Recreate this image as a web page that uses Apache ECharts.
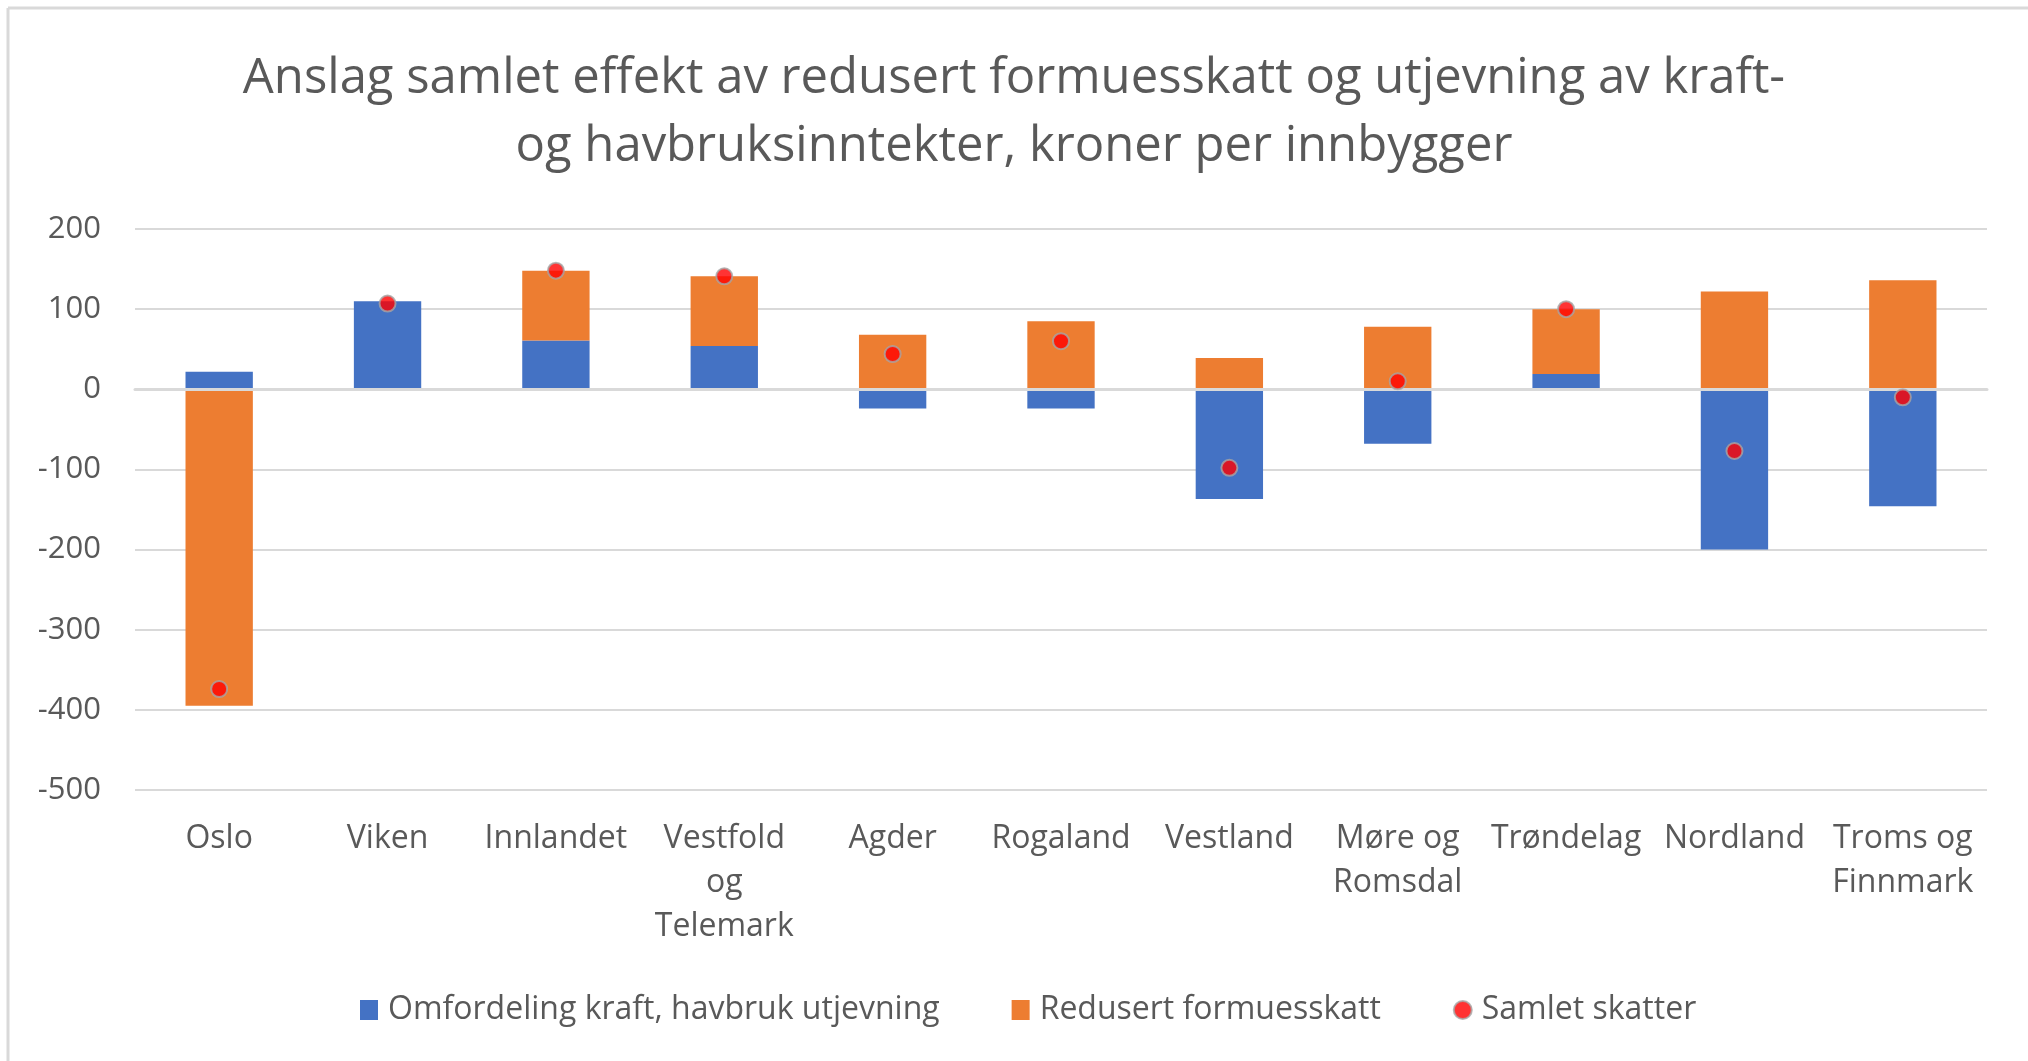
<!DOCTYPE html>
<html>
<head>
<meta charset="utf-8">
<title>Anslag samlet effekt</title>
<script src="https://cdn.jsdelivr.net/npm/echarts@6/dist/echarts.min.js"></script>
<style>
	html, body { margin: 0; padding: 0; background: #fff; }
	#chart { width: 2028px; height: 1061px; }
</style>
</head>
<body>
<div id="chart"></div>
<script>
	// data
	var regions = ['Oslo', 'Viken', 'Innlandet', 'Vestfold\nog\nTelemark', 'Agder', 'Rogaland', 'Vestland', 'Møre og\nRomsdal', 'Trøndelag', 'Nordland', 'Troms og\nFinnmark'];
	var omfordeling = [22, 110, 61, 54, -24, -24, -137, -68, 19, -200, -146];
	var formuesskatt = [-395, 0, 87, 87, 68, 85, 39, 78, 81, 122, 136];
	var samlet = [-374, 107, 148, 141, 44, 60, -98, 10, 100, -77, -10];
	var yTicks = { min: -500, max: 200, step: 100 };

	var grey = '#595959';
	var font = '"Open Sans", "Liberation Sans", sans-serif';

	var mychart = echarts.init(document.getElementById('chart'));
	var option = {
		animation: false,
		textStyle: { fontFamily: font },
		title: {
			text: 'Anslag samlet effekt av redusert formuesskatt og utjevning av kraft-\nog havbruksinntekter, kroner per innbygger',
			left: 'center',
			top: 40,
			textStyle: {
				color: grey,
				fontFamily: font,
				fontWeight: 'normal',
				fontSize: 49,
				lineHeight: 68
			}
		},
		graphic: [
			{ type: 'line', shape: { x1: 8, y1: 8, x2: 2028, y2: 8 }, style: { stroke: '#d9d9d9', lineWidth: 3 } },
			{ type: 'line', shape: { x1: 8, y1: 8, x2: 8, y2: 1061 }, style: { stroke: '#d9d9d9', lineWidth: 3 } }
		],
		legend: {
			left: 355,
			top: 989,
			itemGap: 72,
			itemWidth: 18,
			itemHeight: 20,
			textStyle: { color: grey, fontSize: 32, fontFamily: font, padding: [0, 0, 0, 5] },
			data: [
				{ name: 'Omfordeling kraft, havbruk utjevning', icon: 'rect' },
				{ name: 'Redusert formuesskatt', icon: 'rect' },
				{ name: 'Samlet skatter', icon: 'circle' }
			]
		},
		grid: {
			left: 135,
			right: 41,
			top: 229,
			bottom: 271
		},
		xAxis: {
			type: 'category',
			data: regions,
			z: 5,
			axisLine: { show: true, onZero: true, lineStyle: { color: '#d9d9d9', width: 3 } },
			axisTick: { show: false },
			axisLabel: {
				interval: 0,
				color: grey,
				fontSize: 32,
				lineHeight: 44,
				margin: 27,
				fontFamily: font
			}
		},
		yAxis: {
			type: 'value',
			min: yTicks.min,
			max: yTicks.max,
			interval: yTicks.step,
			axisLine: { show: false },
			axisTick: { show: false },
			axisLabel: { color: grey, fontSize: 31, margin: 34, fontFamily: font },
			splitLine: { show: true, lineStyle: { color: '#d9d9d9', width: 2 } }
		},
		series: [
			{
				name: 'Omfordeling kraft, havbruk utjevning',
				type: 'bar',
				stack: 'sum',
				barWidth: '40%',
				itemStyle: { color: '#4472c4' },
				data: omfordeling
			},
			{
				name: 'Redusert formuesskatt',
				type: 'bar',
				stack: 'sum',
				barWidth: '40%',
				itemStyle: { color: '#ed7d31' },
				data: formuesskatt
			},
			{
				name: 'Samlet skatter',
				type: 'scatter',
				z: 10,
				symbol: 'circle',
				symbolSize: 16,
				itemStyle: { color: '#ff0000', borderColor: '#a6a6a6', borderWidth: 2 },
				data: samlet
			}
		]
	};
	mychart.setOption(option);
</script>
</body>
</html>
